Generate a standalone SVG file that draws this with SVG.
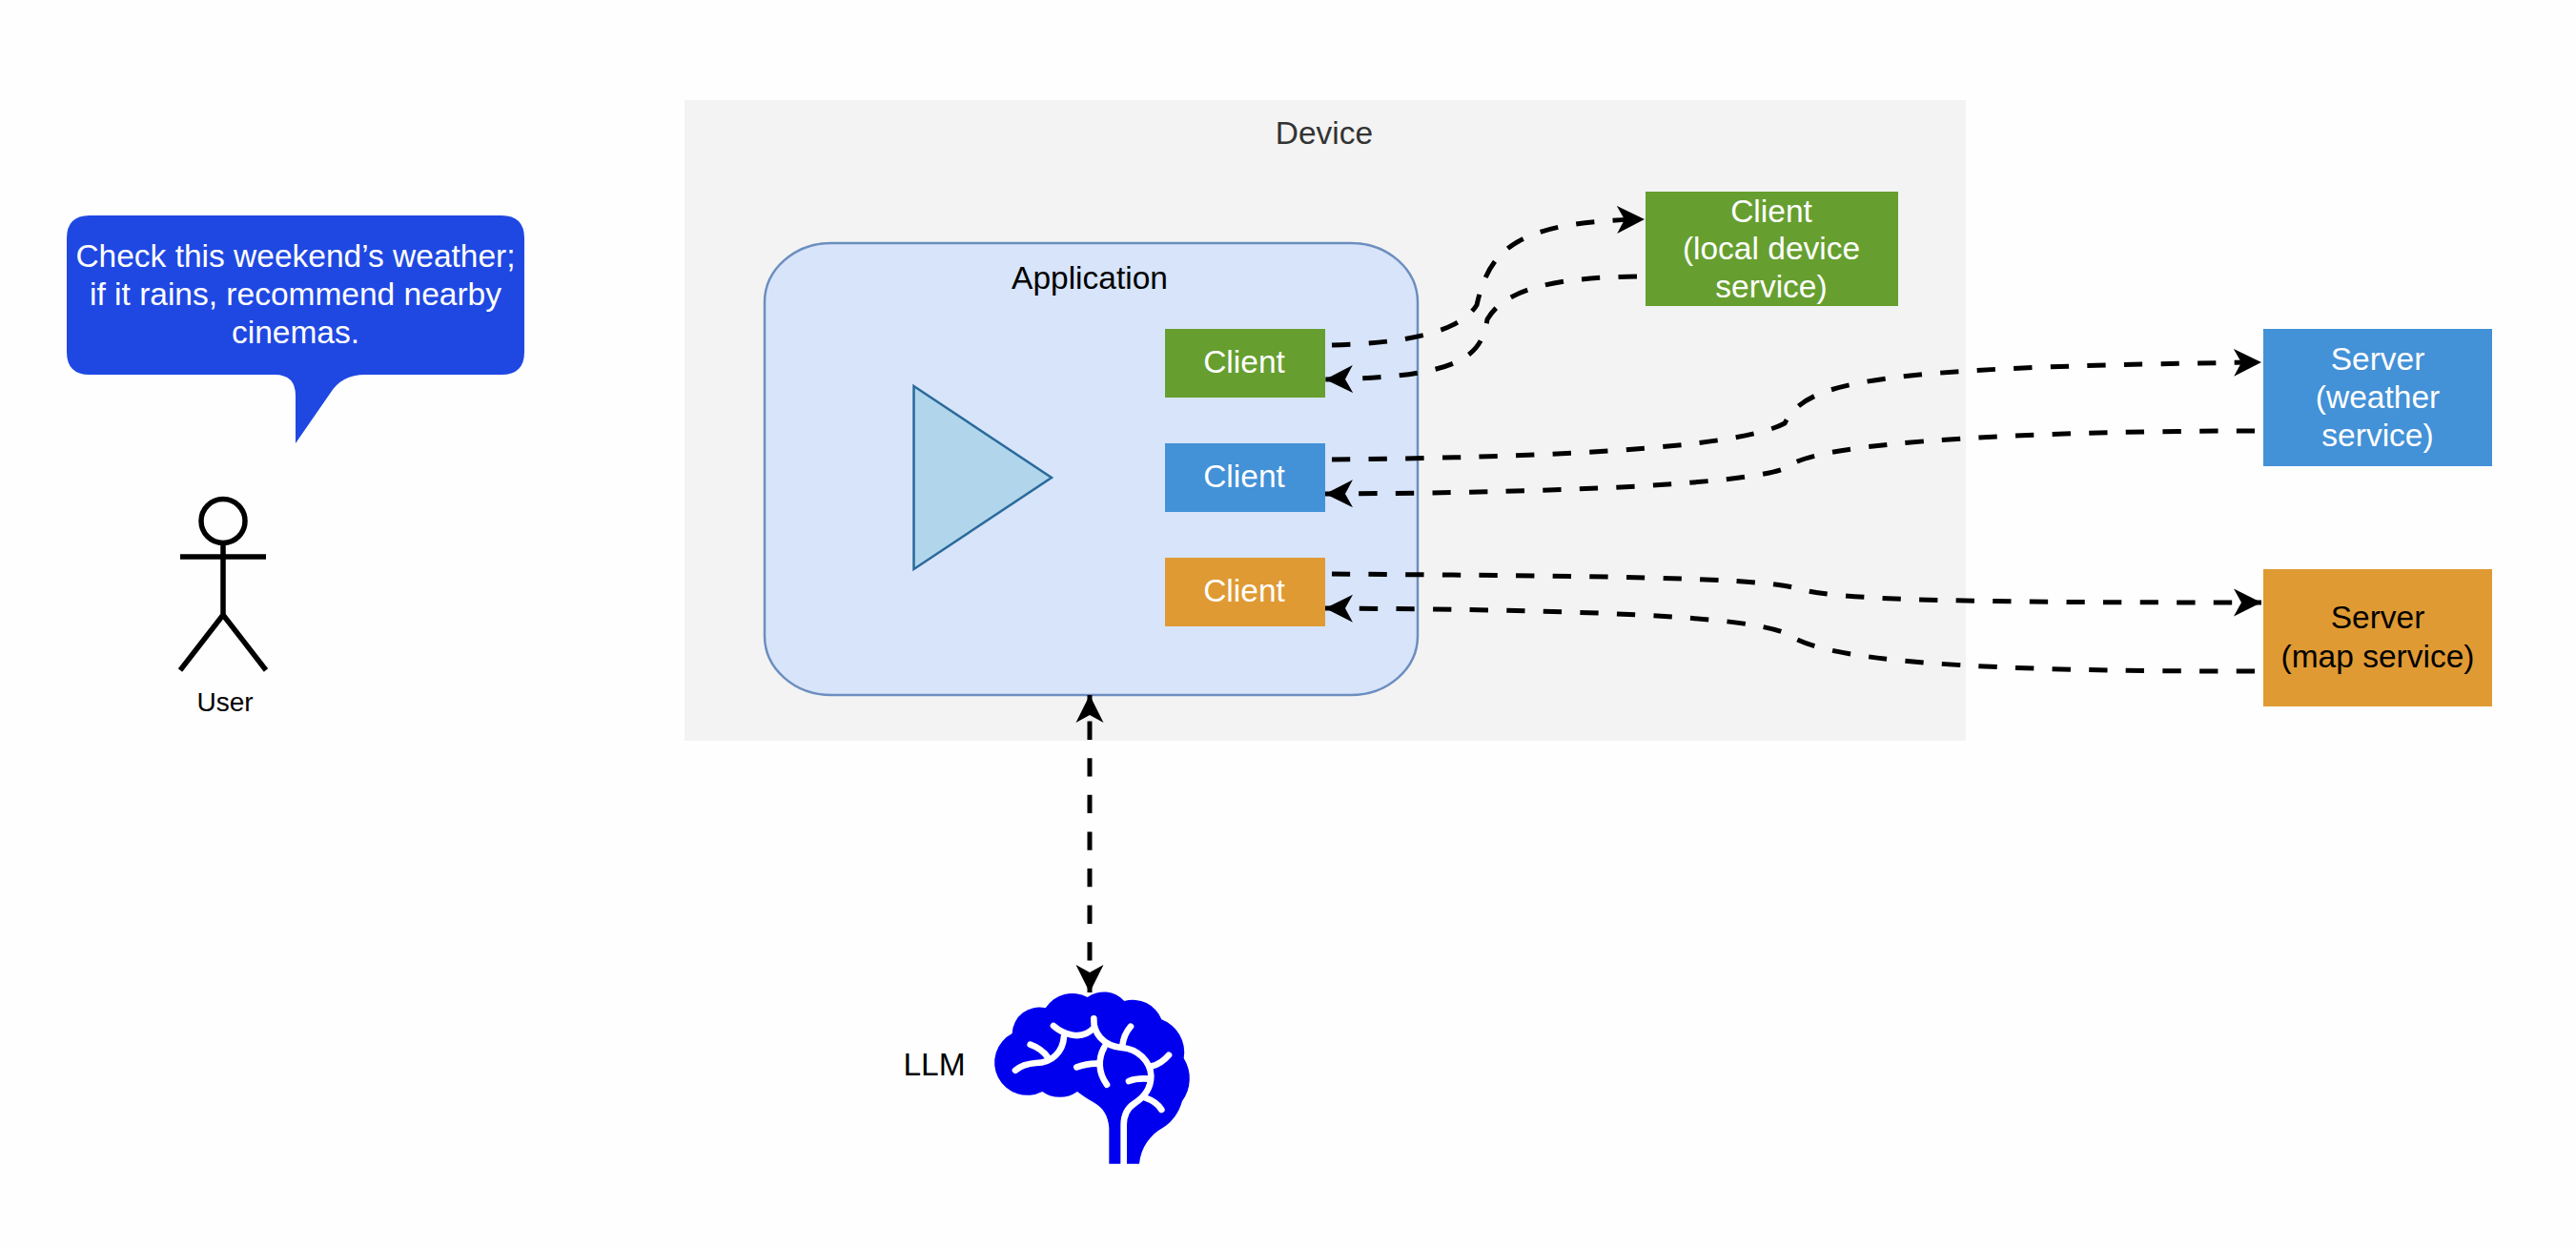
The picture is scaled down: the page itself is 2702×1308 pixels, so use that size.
<svg xmlns="http://www.w3.org/2000/svg" width="2702" height="1308" viewBox="0 0 2702 1308">
  <style>
    text { font-family: "Liberation Sans", Arial, sans-serif; font-size: 33.5px; text-anchor: middle; }
    .w { fill: #ffffff; }
    .k { fill: #000000; }
    .conn { fill: none; stroke: #000000; stroke-width: 5; stroke-dasharray: 19.3 19.3; }
    .green { fill: #669f2f; }
    .blue { fill: #4391d7; }
    .orange { fill: #e09a33; }
    .fig { fill: none; stroke: #000000; stroke-width: 5.5; }
    .fold { fill: none; stroke: #ffffff; stroke-width: 20; stroke-linecap: round; stroke-linejoin: round; }
  </style>
  <defs>
    <marker id="arrow" markerUnits="userSpaceOnUse" markerWidth="32" markerHeight="32" refX="29" refY="15" orient="auto-start-reverse">
      <path d="M29 15 L0 0.5 L8 15 L0 29.5 Z" fill="#000000"/>
    </marker>
  </defs>
  <rect width="2702" height="1308" fill="#fefefe"/>

  <g id="device">
    <rect x="718" y="105" width="1344" height="672" fill="#f3f3f3"/>
    <text x="1389" y="151" fill="#333333">Device</text>
  </g>

  <g id="application">
    <rect x="802" y="255" width="685" height="474" rx="70" ry="62" fill="#d7e4fa" stroke="#6c8ebf" stroke-width="2.5"/>
    <text class="k" x="1143" y="303">Application</text>
    <polygon points="958.5,405 1103,501 958.5,597" fill="#b1d6ec" stroke="#2a6a9a" stroke-width="2.5"/>
  </g>

  <g id="client-green">
    <rect class="green" x="1222" y="345" width="168" height="72"/>
    <text class="w" x="1305" y="391">Client</text>
  </g>
  <g id="client-blue">
    <rect class="blue" x="1222" y="465" width="168" height="72"/>
    <text class="w" x="1305" y="511">Client</text>
  </g>
  <g id="client-orange">
    <rect class="orange" x="1222" y="585" width="168" height="72"/>
    <text class="w" x="1305" y="631">Client</text>
  </g>

  <g id="client-local">
    <rect class="green" x="1726" y="201" width="265" height="120"/>
    <text class="w" x="1858" y="233">Client</text>
    <text class="w" x="1858" y="272">(local device</text>
    <text class="w" x="1858" y="312">service)</text>
  </g>
  <g id="server-weather">
    <rect class="blue" x="2374" y="345" width="240" height="144"/>
    <text class="w" x="2494" y="388">Server</text>
    <text class="w" x="2494" y="428">(weather</text>
    <text class="w" x="2494" y="468">service)</text>
  </g>
  <g id="server-map">
    <rect class="orange" x="2374" y="597" width="240" height="144"/>
    <text class="k" x="2494" y="659">Server</text>
    <text class="k" x="2494" y="700">(map service)</text>
  </g>

  <g id="user">
    <circle class="fig" cx="234" cy="546.5" r="23"/>
    <path class="fig" d="M189 584 H279 M234 569.5 V645 L189 703 M234 645 L279 703"/>
    <text class="k" x="236" y="746" style="font-size:28px">User</text>
  </g>

  <g id="speech-bubble">
    <path d="M94 226 H526 Q550 226 550 250 V369 Q550 393 526 393 H383 Q358 393 346 413 L310 465 V415 Q310 393 288 393 H94 Q70 393 70 369 V250 Q70 226 94 226 Z" fill="#1f48e2"/>
    <text class="w" x="310" y="280">Check this weekend’s weather;</text>
    <text class="w" x="310" y="320">if it rains, recommend nearby</text>
    <text class="w" x="310" y="360">cinemas.</text>
  </g>

  <g id="llm">
    <text class="k" x="980" y="1128">LLM</text>
    <g transform="translate(900 1000) scale(0.33333)">
      <path fill="#0000ee" d="M790 662 V550 C788 510 770 485 740 468 C720 458 705 445 690 435 A95 95 0 0 1 580 435 A100 100 0 1 1 485 252 A85 85 0 0 1 590 172 A100 100 0 0 1 722 138 A87 87 0 0 1 838 150 A97 97 0 0 1 955 208 A110 110 0 0 1 1025 330 A120 120 0 0 1 1020 465 C1010 500 990 530 960 548 C920 570 890 610 885 662 Z"/>
      <path class="fold" d="M615 228 C640 250 700 280 742 235"/>
      <path class="fold" d="M742 205 C740 250 770 290 830 297 C880 300 920 340 922 385 C922 420 905 450 870 472 C845 488 836 510 836 540 V662"/>
      <path class="fold" d="M648 262 C645 310 610 345 560 345 C530 347 510 355 495 368"/>
      <path class="fold" d="M542 287 C565 295 585 310 598 328"/>
      <path class="fold" d="M858 230 C845 245 835 265 832 290"/>
      <path class="fold" d="M775 295 C755 330 755 375 783 413"/>
      <path class="fold" d="M688 358 C710 350 730 345 758 347"/>
      <path class="fold" d="M925 355 C945 350 965 335 978 320"/>
      <path class="fold" d="M852 402 C870 395 890 393 915 395"/>
      <path class="fold" d="M905 455 C925 462 945 475 955 492"/>
    </g>
  </g>

  <g id="connectors">
    <path class="conn" marker-end="url(#arrow)" d="M1397 362 C1470 360 1530 350 1549 320 C1562 262 1590 232 1725 230"/>
    <path class="conn" marker-end="url(#arrow)" d="M1717 290 C1640 291 1580 300 1560 335 C1554 375 1530 396 1390 398"/>
    <path class="conn" marker-end="url(#arrow)" d="M1397 482 C1600 480 1820 472 1872 444 C1895 400 1960 385 2372 380"/>
    <path class="conn" marker-end="url(#arrow)" d="M2365 452 C2150 452 1905 462 1875 490 C1860 498 1780 516 1390 518"/>
    <path class="conn" marker-end="url(#arrow)" d="M1397 602 C1600 604 1830 604 1880 616 C1920 628 2000 632 2372 632"/>
    <path class="conn" marker-end="url(#arrow)" d="M2365 704 C2150 704 1920 700 1875 665 C1845 652 1760 640 1390 638"/>
    <path class="conn" style="stroke-dashoffset:11" marker-start="url(#arrow)" marker-end="url(#arrow)" d="M1143 729 V1041"/>
  </g>
</svg>
